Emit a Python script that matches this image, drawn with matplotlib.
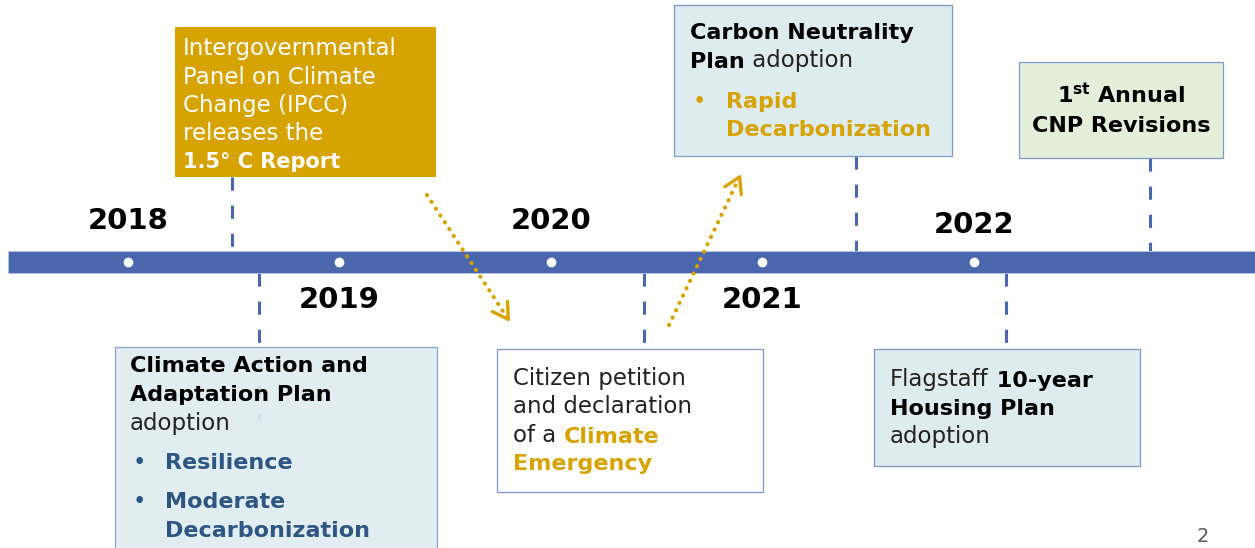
"""Flagstaff climate planning timeline (2018-2022)."""

import matplotlib.pyplot as plt
from matplotlib.patches import Rectangle, FancyArrowPatch

# ---- data -------------------------------------------------------------
years = [2018, 2019, 2020, 2021, 2022]
year_label_y = [221, 300, 221, 300, 225]          # above / below the bar

# event dates (fractional year) where each dashed connector meets the bar
ipcc_date = 2018.49
caap_date = 2018.62
petition_date = 2020.44
cnp_date = 2021.44
housing_date = 2022.15
revision_date = 2022.83

# ---- styling ----------------------------------------------------------
BLUE = "#4a66ac"
GOLD = "#d6a300"
DARK_BLUE = "#2d5682"
TEXT = "#222222"
BOX_FILL = "#deebef"
GREEN_FILL = "#e3efdb"
EDGE = "#7d97cf"
FS_BOLD = 16
FS_NORM = 16.5

X0_PX, PX_PER_YEAR = 128, 211.5      # 2018 sits at 128 px


def px(p):
    """Horizontal pixel position -> year units (layout helper)."""
    return 2018 + (p - X0_PX) / PX_PER_YEAR


fig = plt.figure(figsize=(12.55, 5.48), dpi=100)
ax = fig.add_axes([0, 0, 1, 1])
ax.set_xlim(px(0), px(1255))
ax.set_ylim(548, 0)                  # y in pixels from the top
ax.axis("off")

BAR_TOP, BAR_BOT = 251, 273


def box(x0, x1, y0, y1, face, edge=EDGE, alpha=1.0):
    ax.add_patch(Rectangle((px(x0), y0), px(x1) - px(x0), y1 - y0, facecolor=face,
                           edgecolor=edge, linewidth=0.9, alpha=alpha, zorder=3))


def connector(x, y0, y1):
    ax.plot([x, x], [y0, y1], color=BLUE, linewidth=2.2,
            dashes=(4.3, 4.9), zorder=2, solid_capstyle="butt")


def txt(x, y, s, weight="normal", color=TEXT, size=None, **kw):
    if size is None:
        size = FS_BOLD if weight == "bold" else FS_NORM
    return ax.text(px(x), y, s, fontsize=size, fontweight=weight, color=color,
                   va="baseline", zorder=5, **kw)


def rich_line(x, y, parts):
    """Draw one line of text made of (text, weight, color) pieces."""
    s, w, c = parts[0]
    t = txt(x, y, s, w, c)
    for s, w, c in parts[1:]:
        size = FS_BOLD if w == "bold" else FS_NORM
        t = ax.annotate(s, xy=(1, 0), xycoords=t, va="bottom",
                        fontsize=size, fontweight=w, color=c, zorder=5)
    return t


# ---- timeline bar and year markers ------------------------------------
ax.add_patch(Rectangle((px(8), BAR_TOP), px(1300) - px(8), BAR_BOT - BAR_TOP,
                       facecolor=BLUE, edgecolor="#b9c6e4", linewidth=0.6, zorder=4))
ax.plot(years, [262] * len(years), "o", color="white", markersize=7,
        markeredgewidth=0, zorder=5)
for yr, ly in zip(years, year_label_y):
    ax.text(yr, ly, str(yr), fontsize=21, fontweight="bold", color="black",
            ha="center", va="center")

# ---- IPCC (gold box, above) -------------------------------------------
box(175, 436, 27, 177, GOLD, edge="none")
connector(ipcc_date, 177, BAR_TOP)
for yy, line in zip([55, 83.5, 112, 140.5], ["Intergovernmental", "Panel on Climate",
                                            "Change (IPCC)", "releases the"]):
    txt(183, yy, line, color="white")
txt(183, 168, "1.5° C Report", "bold", "white", size=15)

# ---- Climate Action and Adaptation Plan (below) -----------------------
connector(caap_date, BAR_BOT, 420)
box(115, 437, 347, 560, BOX_FILL, alpha=0.9)
txt(130, 372, "Climate Action and", "bold", "black")
txt(130, 401, "Adaptation Plan", "bold", "black")
txt(130, 430, "adoption")
for yy, line in zip([469, 508], ["Resilience", "Moderate"]):
    txt(133, yy, "•", color=DARK_BLUE)
    txt(165, yy, line, "bold", DARK_BLUE)
txt(165, 537, "Decarbonization", "bold", DARK_BLUE)

# ---- Citizen petition (below) -----------------------------------------
connector(petition_date, BAR_BOT, 349)
box(497, 763, 349, 492, "white")
txt(513, 385, "Citizen petition")
txt(513, 413, "and declaration")
rich_line(513, 442, [("of a ", "normal", TEXT), ("Climate", "bold", GOLD)])
txt(513, 470, "Emergency", "bold", GOLD)

# ---- Carbon Neutrality Plan (above) -----------------------------------
box(674, 952, 5, 156, BOX_FILL)
connector(cnp_date, 156, BAR_TOP)
txt(690, 39, "Carbon Neutrality", "bold", "black")
rich_line(690, 68, [("Plan", "bold", "black"), (" adoption", "normal", TEXT)])
txt(693, 108, "•", color=GOLD)
txt(726, 108, "Rapid", "bold", GOLD)
txt(726, 136, "Decarbonization", "bold", GOLD)

# ---- Housing plan (below) ---------------------------------------------
connector(housing_date, BAR_BOT, 349)
box(874, 1140, 349, 466, BOX_FILL)
rich_line(890, 386, [("Flagstaff", "normal", TEXT), (" 10-year", "bold", "black")])
txt(890, 415, "Housing Plan", "bold", "black")
txt(890, 443, "adoption")

# ---- 1st annual CNP revisions (above) ---------------------------------
box(1019, 1223, 62, 158, GREEN_FILL)
connector(revision_date, 158, BAR_TOP)
txt(1121, 103, r"$\mathbf{1^{st}}$ Annual", "bold", "black", ha="center")
txt(1121, 132, "CNP Revisions", "bold", "black", ha="center")

# ---- dotted gold arrows (drawn over the bar) --------------------------
for (x0, y0), (x1, y1) in [((427, 195), (510, 322)),
                           ((669, 325), (741, 174))]:
    ax.plot([px(x0), px(x1)], [y0, y1], color=GOLD, linewidth=3.0,
            linestyle=(0, (0.05, 1.9)), dash_capstyle="round", zorder=6)
    # open chevron head, solid
    frac = 0.97
    tail = (px(x0 + (x1 - x0) * frac), y0 + (y1 - y0) * frac)
    ax.add_patch(FancyArrowPatch(tail, (px(x1), y1),
                                 arrowstyle="->,head_length=0.5,head_width=0.3",
                                 mutation_scale=22, color=GOLD, linewidth=2.4,
                                 shrinkA=0, shrinkB=0, zorder=6))

# slide number
ax.text(px(1203), 537, "2", fontsize=14, color="#595959", ha="center", va="center")

fig.savefig("out.png", dpi=100)
